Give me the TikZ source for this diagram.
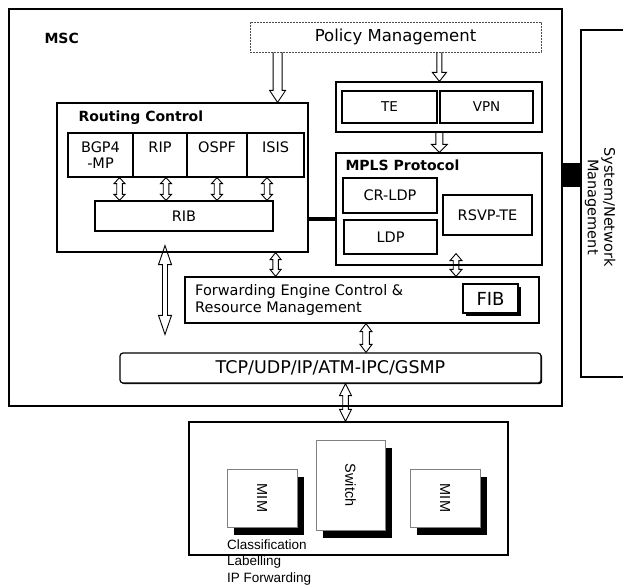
\documentclass[tikz,border=0pt]{standalone}
\usepackage{fontspec}
\setmainfont{DejaVu Sans}
\newfontfamily\arialfont{Liberation Sans}
\usetikzlibrary{positioning}
\usetikzlibrary{calc}
\usetikzlibrary{shadows}

% hollow arrows: #1 from, #2 to, #3 half shaft, #4 half head, #5 head length
\newcommand{\dblarrow}[5]{%
  \draw[arrowbox] let \p1=#1, \p2=#2 in
    (\x1,\y1) -- (\x1+#4pt,\y1-#5pt) -- (\x1+#3pt,\y1-#5pt) -- (\x1+#3pt,\y2+#5pt) -- (\x1+#4pt,\y2+#5pt)
    -- (\x1,\y2) -- (\x1-#4pt,\y2+#5pt) -- (\x1-#3pt,\y2+#5pt) -- (\x1-#3pt,\y1-#5pt) -- (\x1-#4pt,\y1-#5pt) -- cycle;}
\newcommand{\hollowdown}[5]{%
  \draw[arrowbox] let \p1=#1, \p2=#2 in
    (\x1-#3pt,\y1) -- (\x1-#3pt,\y2+#5pt) -- (\x1-#4pt,\y2+#5pt) -- (\x1,\y2)
    -- (\x1+#4pt,\y2+#5pt) -- (\x1+#3pt,\y2+#5pt) -- (\x1+#3pt,\y1);}

\tikzset{
  box/.style={draw, line width=1.2pt, inner sep=0pt},
  raised/.style={box, fill=white, drop shadow={shadow xshift=1.2pt, shadow yshift=-1.2pt, fill=black, opacity=1}},
  deep/.style={box, line width=0.5pt, draw=gray, fill=white, drop shadow={shadow xshift=7pt, shadow yshift=-8pt, fill=black, opacity=1}},
  txt/.style={font=\fontsize{14.5}{16.5}\selectfont},
  small/.style={font=\fontsize{13.5}{16}\selectfont},
  bold/.style={font=\fontsize{14}{16}\selectfont\bfseries},
  hw/.style={font=\arialfont\fontsize{14.5}{16}\selectfont},
  arrowbox/.style={draw, line width=0.9pt},
}

\begin{document}
\begin{tikzpicture}[x=1pt, y=-1pt]
    \useasboundingbox (0,0) rectangle (623,587);

    % outer frame and management
    \node[box, line width=1.5pt, minimum width=553pt, minimum height=397pt] (msc) at (285.5,207.5) {};
    \node[bold, anchor=west] (msclabel) at (41,38) {MSC};
    \node[draw=black!70, dash pattern=on 2pt off 1pt, line width=0.8pt, minimum width=291pt, minimum height=30pt,
          font=\fontsize{16.5}{19}\selectfont] (policy) at (395.5,37) {Policy Management};

    \node[box, minimum width=60pt, minimum height=347pt] (sys) at (611,203.5) {};
    \node[txt, rotate=-90, align=center] (syslabel) at (600,207) {System/Network\\Management};
    \coordinate (link) at ([yshift=32.5pt]msc.east);
    \draw[line width=24pt] (link) -- (link -| sys.west);

    % TE and VPN
    \node[box, minimum width=206pt, minimum height=50pt] (tegroup) at (439,107) {};
    \node[raised, small, minimum width=95pt, minimum height=32pt] (te) at (389.5,107) {TE};
    \node[raised, small, minimum width=93pt, minimum height=32pt] (vpn) at (486.5,107) {VPN};

    % MPLS protocol
    \node[box, minimum width=206pt, minimum height=112pt] (mpls) at (439,209) {};
    \node[bold, anchor=west] (mplslabel) at (342,165) {MPLS Protocol};
    \node[raised, txt, minimum width=94pt, minimum height=35pt] (crldp) at (390,195.5) {CR-LDP};
    \node[raised, txt, minimum width=93pt, minimum height=34pt] (ldp) at (390.5,237) {LDP};
    \node[raised, txt, minimum width=89pt, minimum height=40pt] (rsvp) at (487.5,215) {RSVP-TE};

    % routing control
    \node[box, minimum width=251pt, minimum height=149pt] (rc) at (182.5,177.5) {};
    \node[bold, anchor=west] (rclabel) at (75,118) {Routing Control};
    \foreach \name/\x/\w/\txt in {bgp/100.5/65/{BGP4\\-MP}, rip/160/54/{RIP\\~}, ospf/217/60/{OSPF\\~}, isis/275.5/57/{ISIS\\~}}
      \node[box, txt, align=center, minimum width=\w pt, minimum height=44pt] (\name) at (\x,155) {\txt};
    \node[box, txt, minimum width=178pt, minimum height=30pt] (rib) at (184,216) {RIB};
    \draw[line width=4pt] (rc.east |- ldp.north) -- (mpls.west |- ldp.north);

    % forwarding and transport
    \node[raised, minimum width=354pt, minimum height=46pt] (fwd) at (362,300) {};
    \node[txt, anchor=west, align=left, inner sep=0pt] (fwdlabel) at (195,300) {Forwarding Engine Control \&\\Resource Management};
    \node[box, fill=white, drop shadow={shadow xshift=3pt, shadow yshift=-3pt, fill=black, opacity=1},
          font=\fontsize{18}{20}\selectfont, minimum width=55pt, minimum height=29pt] (fib) at (490.5,298.5) {FIB};
    \node[raised, rounded corners=3pt, font=\fontsize{17.5}{20}\selectfont, minimum width=421pt, minimum height=30pt] (tcp) at (330.5,368) {TCP/UDP/IP/ATM-IPC/GSMP};

    % hardware
    \node[box, minimum width=319pt, minimum height=133pt] (lower) at (348.5,488.5) {};
    \node[deep, hw, minimum width=70pt, minimum height=58pt] (mima) at (262,498) {\rotatebox{-90}{MIM}};
    \node[deep, hw, minimum width=69pt, minimum height=90pt] (switch) at (350.5,485) {\rotatebox{-90}{Switch}};
    \node[deep, hw, minimum width=70pt, minimum height=58pt] (mimb) at (445,498) {\rotatebox{-90}{MIM}};
    \node[anchor=west, align=left, inner sep=0pt, font=\arialfont\fontsize{13.5}{16.5}\selectfont] (tasks) at (227,562) {Classification\\Labelling\\IP Forwarding};

    % arrows
    \hollowdown{([xshift=28pt]policy.south west)}{(rc.north)}{4.5}{8}{12}
    \hollowdown{(policy.south -| vpn.west)}{(tegroup.north)}{2.5}{7}{9}
    \hollowdown{(tegroup.south -| vpn.west)}{(mpls.north)}{3.5}{8}{8}
    \foreach \proto/\dx in {bgp/19, rip/6, ospf/0, isis/-8.5}
      {\dblarrow{([xshift=\dx pt]\proto.south)}{(rib.north)}{2.8}{5.5}{6}}
    \dblarrow{([xshift=-17.5pt, yshift=7pt]rc.south)}{([yshift=18pt]tcp.north)}{2.5}{6.5}{19}
    \dblarrow{([xshift=-33pt]rc.south east)}{(fwd.north)}{2.7}{5.5}{7}
    \dblarrow{([xshift=17pt, yshift=12pt]mpls.south)}{(fwd.north)}{2.8}{6}{7}
    \dblarrow{([xshift=4pt]fwd.south)}{(tcp.north)}{3.3}{6}{8}
    \dblarrow{([xshift=15pt]tcp.south)}{(lower.north)}{2.8}{6}{12}

\end{tikzpicture}
\end{document}
